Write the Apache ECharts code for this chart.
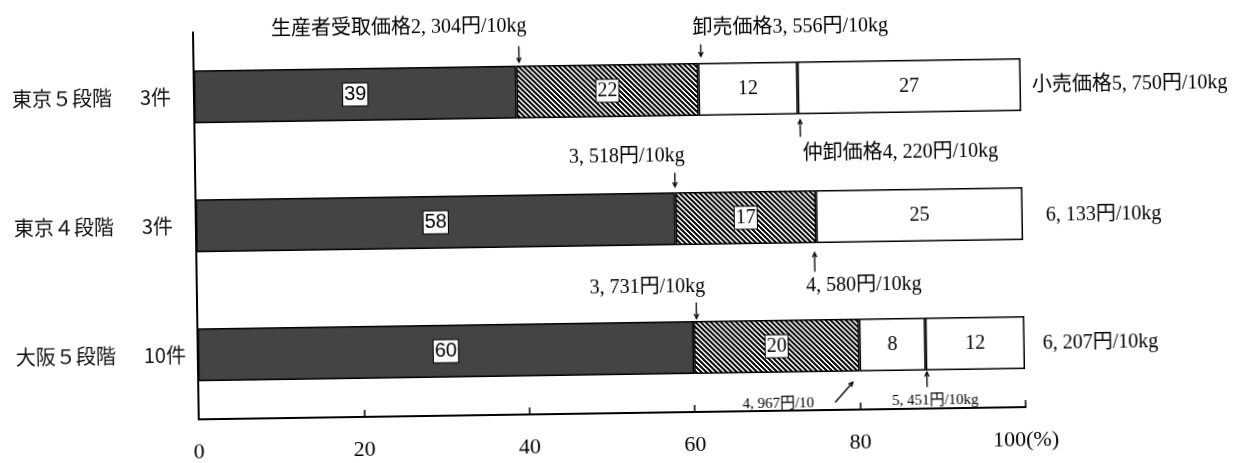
<!DOCTYPE html>
<html><head><meta charset="utf-8">
<script src="https://cdn.jsdelivr.net/npm/echarts@6/dist/echarts.min.js"></script>
<style>
html,body{margin:0;padding:0;background:#fff;overflow:hidden}
#c{width:1252px;height:463px;transform:rotate(-0.85deg);transform-origin:626px 231px;}
</style>
</head><body><div id="c"></div>
<script>
// ---- data ----
const categories = ['東京５段階', '東京４段階', '大阪５段階'];
const caseCounts = ['3件', '3件', '10件'];
const producerShare = [39, 58, 60];
const wholesaleShare = [22, 17, 20];
const intermediateShare = [12, null, 8];
const retailShare = [27, 25, 12];
const producerPrice = [2304, 3518, 3731];
const wholesalePrice = [3556, 4580, 4967];
const intermediatePrice = [4220, null, 5451];
const retailPrice = [5750, 6133, 6207];
const xTickValues = [0, 20, 40, 60, 80, 100];

// ---- styles ----
const SERIF = '"Liberation Serif","Noto Sans CJK JP",serif';
const SANS = '"Liberation Sans",Arial,sans-serif';
const GOTHIC = '"Noto Sans CJK JP",sans-serif';

function hatchCanvas() {
  const c = document.createElement('canvas');
  c.width = c.height = 5;
  const g = c.getContext('2d');
  g.fillStyle = '#fff'; g.fillRect(0, 0, 5, 5);
  g.fillStyle = '#111';
  for (let y = 0; y < 5; y++) for (let x = 0; x < 5; x++) {
    if ((((x - y) % 5) + 5) % 5 < 3) g.fillRect(x, y, 1, 1);
  }
  return c;
}
const fmtNum = n => n.toLocaleString('en-US').replace(',', ', ');

function boxedLabel(font) {
  return { show: true, position: 'inside', formatter: '{c}', color: '#000', fontSize: 20,
    fontFamily: font, backgroundColor: '#fff', borderColor: '#000', borderWidth: 1, padding: [2, 1, 0, 1] };
}
const plainLabel = { show: true, position: 'inside', formatter: '{c}', color: '#000', fontSize: 20, fontFamily: SERIF };
const edge = { borderColor: '#000', borderWidth: 1.5 };

const chart = echarts.init(document.getElementById('c'), null, { renderer: 'canvas' });
chart.setOption({
  animation: false,
  backgroundColor: '#fff',
  grid: { left: 196, right: 229, top: 26, bottom: 50 },
  xAxis: {
    type: 'value', min: 0, max: 100, interval: 20,
    axisLine: { show: true, lineStyle: { color: '#000', width: 2 } },
    axisTick: { show: true, inside: true, length: 7, lineStyle: { color: '#000', width: 1.5 } },
    splitLine: { show: false },
    axisLabel: { color: '#000', fontSize: 22, fontFamily: SERIF, margin: 22,
      formatter: v => xTickValues.indexOf(v) === xTickValues.length - 1 ? v + '(%)' : String(v) }
  },
  yAxis: {
    type: 'category', inverse: true, data: categories,
    axisLine: { show: true, lineStyle: { color: '#000', width: 2 } },
    axisTick: { show: false },
    axisLabel: {
      align: 'left', margin: 182,
      formatter: (v, i) => '{a|' + v + '}{b|' + caseCounts[i] + '}',
      rich: {
        a: { fontFamily: GOTHIC, fontSize: 20, color: '#111', width: 128 },
        b: { fontFamily: GOTHIC, fontSize: 20, color: '#111' }
      }
    }
  },
  series: [
    { name: '生産者受取', type: 'bar', stack: 't', barWidth: 53, data: producerShare,
      itemStyle: Object.assign({ color: '#444' }, edge), label: boxedLabel(SANS) },
    { name: '卸売', type: 'bar', stack: 't', barWidth: 53, data: wholesaleShare,
      itemStyle: Object.assign({ color: { image: hatchCanvas(), repeat: 'repeat' } }, edge), label: boxedLabel(SERIF) },
    { name: '仲卸', type: 'bar', stack: 't', barWidth: 53, data: intermediateShare,
      itemStyle: Object.assign({ color: '#fff' }, edge), label: plainLabel },
    { name: '小売', type: 'bar', stack: 't', barWidth: 53, data: retailShare,
      itemStyle: Object.assign({ color: '#fff' }, edge), label: plainLabel }
  ]
});

// ---- annotations placed through the chart's own scales ----
function pt(v, row) { return chart.convertToPixel({ gridIndex: 0 }, [v, row]); }
const els = [];
function txt(v, row, dx, dy, text, align, size) {
  const p = pt(v, row);
  els.push({ type: 'text', x: p[0] + dx, y: p[1] + dy,
    style: { text: text, fontSize: size || 20, fontFamily: SERIF, fill: '#000', align: align, verticalAlign: 'middle' } });
}
function arrow(v, row, x1, y1, x2, y2) {
  const p = pt(v, row);
  const ax = p[0] + x1, ay = p[1] + y1, bx = p[0] + x2, by = p[1] + y2;
  const ang = Math.atan2(by - ay, bx - ax), L = 5, w = 0.45;
  els.push({ type: 'line', shape: { x1: ax, y1: ay, x2: bx, y2: by }, style: { stroke: '#000', lineWidth: 1.3 } });
  els.push({ type: 'polyline', shape: { points: [
    [bx - L * Math.cos(ang - w), by - L * Math.sin(ang - w)], [bx, by],
    [bx - L * Math.cos(ang + w), by - L * Math.sin(ang + w)]] },
    style: { stroke: '#000', lineWidth: 1.3, fill: null } });
}
const b1 = producerShare.map(v => v);
const b2 = producerShare.map((v, i) => v + wholesaleShare[i]);
const b3 = b2.map((v, i) => v + (intermediateShare[i] || 0));
const b4 = b3.map((v, i) => v + retailShare[i]);
const unit = '円/10kg';

// row 0
txt(b1[0], 0, 11, -66, '生産者受取価格' + fmtNum(producerPrice[0]) + unit, 'right');
arrow(b1[0], 0, 3, -46, 3, -30);
txt(b2[0], 0, -5, -61, '卸売価格' + fmtNum(wholesalePrice[0]) + unit, 'left');
arrow(b2[0], 0, 3, -45, 3, -33);
arrow(b3[0], 0, 2, 49, 2, 32);
txt(b3[0], 0, 4, 66, '仲卸価格' + fmtNum(intermediatePrice[0]) + unit, 'left');
txt(b4[0], 0, 11, 1, '小売価格' + fmtNum(retailPrice[0]) + unit, 'left');
// row 1
txt(b1[1], 1, 10, -63, fmtNum(producerPrice[1]) + unit, 'right');
arrow(b1[1], 1, 0, -46, 0, -32);
arrow(b2[1], 1, -2, 55, -2, 36);
txt(b2[1], 1, -11, 69, fmtNum(wholesalePrice[1]) + unit, 'left');
txt(b4[1], 1, 23, 2, fmtNum(retailPrice[1]) + unit, 'left');
// row 2
txt(b1[2], 2, 12, -61, fmtNum(producerPrice[2]) + unit, 'right');
arrow(b1[2], 2, 3, -45, 3, -29);
txt(b2[2], 2, -46, 58, fmtNum(wholesalePrice[2]) + '円/10', 'right', 15);
arrow(b2[2], 2, -25, 57, -7, 37);
arrow(b3[2], 2, 1, 43, 1, 28);
txt(b3[2], 2, 9, 57, fmtNum(intermediatePrice[2]) + unit, 'center', 15);
txt(b4[2], 2, 18, 1, fmtNum(retailPrice[2]) + unit, 'left');

chart.setOption({ graphic: { elements: els } });
</script>
</body></html>
